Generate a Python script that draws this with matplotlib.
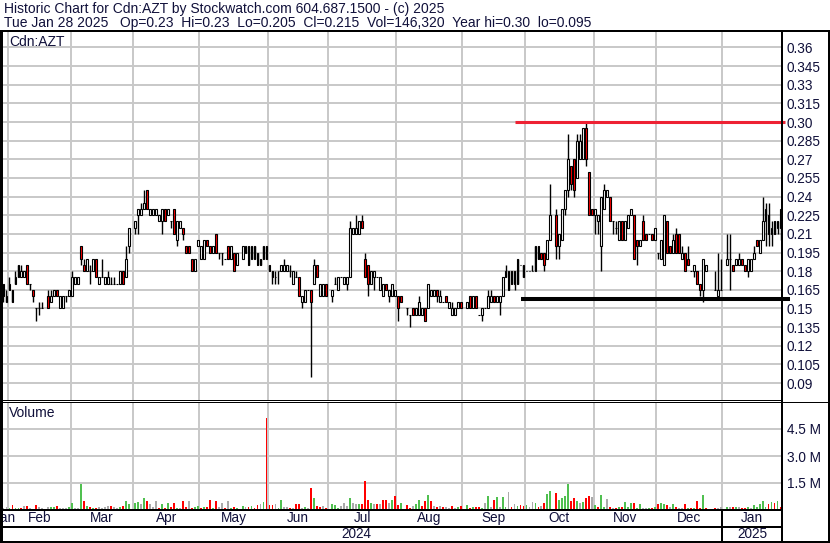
import numpy as np
import pandas as pd
import matplotlib
matplotlib.use("Agg")
import matplotlib.pyplot as plt
from matplotlib.lines import Line2D

plt.rcParams['font.family'] = ['Liberation Sans', 'DejaVu Sans']

# ---- data ----
holidays = ['2024-02-19', '2024-03-29', '2024-05-20', '2024-07-01', '2024-08-05',
            '2024-09-02', '2024-10-14', '2024-12-25', '2024-12-26', '2025-01-01']

# one row per month: Jan24, Feb .. Dec, Jan25
opens = [
    .17, .155,
    .17, .165, .17, .175, .175, .175, .185, .17, .165, .15, .15, .15, .16, .155, .16, .165, .15, .15, .16, .16,
    .16, .17, .17, .20, .185, .18, .18, .18, .19, .17, .175, .17, .17, .17, .17, .17, .17, .18, .175, .20,
    .215, .225, .225, .23, .245, .225, .225, .225, .22, .22, .23, .225, .22, .23, .205, .215, .215, .20, .20, .19, .18, .20,
    .19, .19, .205, .20, .195, .21, .195, .195, .19, .20, .19, .195, .185, .19, .195, .20, .19, .20, .195, .19, .19, .20,
    .185, .18, .175, .18, .18, .18, .18, .18, .17, .175, .175, .155, .155, .165, .165, .17, .185, .16, .16, .17,
    .16, .17, .165, .175, .17, .17, .175, .21, .21, .21, .22, .19, .185, .17, .175, .175, .165, .16, .17, .16, .16, .16,
    .16, .16, .15, .145, .15, .145, .145, .145, .15, .15, .16, .16, .165, .155, .155, .16, .15, .145, .145, .15, .155,
    .15, .16, .15, .16, .145, .145, .15, .15, .155, .16, .155, .155, .16, .175, .165, .18, .18, .17, .185, .185,
    .18, .18, .18, .18, .20, .195, .195, .19, .205, .225, .20, .205, .23, .245, .265, .27, .255, .27, .27, .295, .26, .23,
    .225, .22, .20, .23, .24, .24, .22, .215, .205, .22, .205, .215, .225, .225, .205, .20, .22, .21, .21, .21, .205,
    .195, .19, .185, .22, .20, .195, .21, .21, .19, .195, .19, .18, .18, .18, .17, .165, .18, .165, .16, .165,
    .185, .19, .185, .185, .185, .19, .185, .18, .18, .19, .205, .195, .205, .22, .225, .21, .22, .215, .23,
]
highs = [
    .17, .165,
    .175, .165, .18, .185, .185, .18, .185, .17, .165, .15, .155, .155, .165, .165, .165, .165, .16, .16, .16, .165,
    .18, .175, .175, .20, .19, .19, .185, .19, .19, .175, .19, .175, .18, .175, .175, .17, .18, .18, .20, .215,
    .22, .23, .235, .245, .245, .23, .23, .23, .225, .23, .23, .23, .22, .23, .22, .22, .215, .20, .20, .19, .19, .205,
    .20, .205, .205, .20, .20, .21, .195, .195, .19, .20, .20, .195, .195, .20, .20, .20, .20, .20, .195, .19, .20, .20,
    .185, .18, .18, .18, .185, .19, .185, .185, .18, .18, .175, .16, .165, .165, .165, .19, .185, .17, .17, .17,
    .165, .175, .175, .175, .175, .175, .22, .215, .225, .22, .225, .195, .185, .18, .18, .175, .175, .17, .17, .165, .17, .165,
    .16, .16, .15, .145, .15, .15, .16, .15, .15, .17, .165, .165, .165, .165, .155, .16, .155, .155, .15, .155, .155,
    .155, .16, .16, .16, .145, .15, .15, .165, .165, .16, .16, .16, .175, .185, .18, .18, .18, .19, .185, .185,
    .18, .18, .185, .20, .20, .195, .195, .205, .25, .23, .21, .23, .245, .29, .265, .27, .29, .29, .295, .30, .26, .23,
    .23, .225, .24, .25, .245, .24, .22, .22, .22, .22, .22, .225, .23, .225, .205, .205, .225, .21, .21, .21, .215,
    .195, .205, .225, .22, .20, .21, .215, .21, .20, .195, .20, .18, .185, .18, .17, .19, .185, .18, .195, .19,
    .21, .21, .185, .19, .195, .19, .185, .19, .19, .20, .205, .205, .24, .235, .235, .22, .22, .22, .23,
]
lows = [
    .155, .155,
    .165, .155, .17, .175, .175, .175, .17, .165, .155, .14, .145, .15, .15, .155, .16, .16, .15, .15, .155, .16,
    .16, .17, .17, .185, .18, .18, .17, .18, .175, .17, .175, .17, .17, .17, .17, .17, .17, .17, .175, .195,
    .21, .21, .225, .23, .23, .225, .225, .225, .22, .21, .22, .225, .215, .21, .20, .215, .205, .195, .195, .18, .18, .20,
    .19, .19, .20, .195, .195, .195, .19, .185, .19, .19, .19, .18, .185, .19, .195, .185, .19, .19, .185, .185, .19, .19,
    .18, .17, .17, .17, .18, .18, .18, .175, .17, .175, .16, .15, .155, .165, .095, .17, .175, .16, .16, .16,
    .155, .17, .165, .175, .17, .165, .175, .21, .21, .21, .215, .175, .16, .17, .165, .175, .165, .16, .165, .155, .16, .16,
    .14, .155, .145, .135, .145, .145, .145, .145, .14, .15, .16, .16, .155, .155, .155, .155, .15, .145, .145, .15, .15,
    .15, .15, .15, .15, .145, .14, .15, .15, .155, .155, .155, .145, .16, .175, .165, .17, .165, .17, .185, .175,
    .18, .18, .18, .18, .19, .19, .18, .19, .205, .19, .19, .205, .225, .24, .245, .24, .255, .27, .27, .265, .225, .225,
    .21, .21, .18, .23, .24, .22, .21, .21, .205, .205, .205, .215, .225, .19, .185, .20, .205, .205, .21, .205, .205,
    .19, .19, .185, .195, .195, .195, .195, .195, .19, .18, .185, .18, .175, .17, .16, .155, .18, .165, .16, .165,
    .185, .165, .18, .185, .185, .185, .18, .175, .18, .19, .20, .195, .205, .20, .20, .20, .21, .21, .205,
]
closes = [
    .16, .16,
    .165, .155, .175, .185, .18, .18, .17, .17, .16, .15, .15, .15, .15, .16, .165, .16, .16, .16, .16, .165,
    .175, .175, .175, .19, .18, .19, .18, .19, .175, .175, .175, .175, .175, .17, .17, .17, .18, .17, .19, .215,
    .22, .23, .23, .235, .23, .23, .23, .23, .225, .23, .22, .23, .22, .21, .22, .22, .21, .195, .195, .18, .19, .205,
    .20, .205, .20, .195, .20, .195, .195, .195, .19, .19, .20, .18, .195, .20, .20, .185, .20, .19, .185, .185, .20, .19,
    .18, .175, .175, .18, .185, .185, .185, .18, .18, .175, .16, .16, .165, .165, .155, .185, .175, .17, .17, .16,
    .165, .17, .175, .175, .175, .175, .215, .215, .215, .22, .215, .175, .17, .18, .18, .175, .175, .17, .165, .165, .17, .165,
    .15, .155, .15, .145, .145, .15, .155, .15, .14, .17, .165, .165, .16, .16, .155, .155, .155, .15, .15, .155, .15,
    .155, .15, .16, .15, .145, .15, .15, .16, .16, .155, .16, .16, .175, .18, .18, .17, .17, .19, .185, .175,
    .18, .18, .18, .20, .19, .19, .185, .205, .225, .20, .21, .23, .245, .27, .25, .245, .285, .285, .295, .27, .225, .225,
    .23, .225, .24, .245, .245, .22, .22, .215, .22, .205, .22, .225, .23, .19, .20, .205, .205, .205, .21, .205, .215,
    .195, .205, .225, .195, .195, .205, .195, .195, .195, .18, .185, .18, .185, .17, .165, .19, .185, .165, .165, .165,
    .19, .19, .18, .19, .19, .185, .18, .19, .19, .195, .20, .205, .22, .23, .21, .215, .21, .22, .215,
]
volumes = [  # millions
    0.12, 0.15,
    0.12, 0.28, 0.10, 0.12, 0.10, 0.20, 0.22, 0.12, 0.08, 0.28, 0.15, 0.12, 0.15, 0.18, 0.18, 0.22, 0.12, 0.10, 0.10, 0.15,
    0.41, 0.10, 0.12, 1.44, 0.50, 0.22, 0.15, 0.12, 0.10, 0.15, 0.13, 0.15, 0.20, 0.20, 0.15, 0.12, 0.15, 0.20, 0.52, 0.35,
    0.40, 0.45, 0.33, 0.67, 0.50, 0.33, 0.15, 0.50, 0.12, 0.33, 0.12, 0.40, 0.15, 0.40, 0.12, 0.12, 0.50, 0.15, 0.50, 0.12, 0.15, 0.22,
    0.12, 0.15, 0.15, 0.55, 0.12, 0.50, 0.15, 0.41, 0.12, 0.50, 0.12, 0.15, 0.12, 0.22, 0.15, 0.15, 0.22, 0.12, 0.28, 0.33, 0.45, 5.13,
    0.28, 0.28, 0.33, 0.12, 0.56, 0.15, 0.15, 0.12, 0.12, 0.33, 0.33, 0.12, 0.15, 0.12, 1.24, 0.67, 0.20, 0.15, 0.20, 0.12,
    0.33, 0.28, 0.12, 0.20, 0.41, 0.20, 0.67, 0.41, 0.33, 0.33, 0.33, 1.61, 0.56, 0.41, 0.33, 0.33, 0.33, 0.56, 0.56, 0.41, 0.56, 0.78,
    0.28, 0.41, 0.28, 0.12, 0.22, 0.33, 0.56, 0.20, 0.50, 0.83, 0.50, 0.20, 0.15, 0.20, 0.15, 0.15, 0.12, 0.20, 0.12, 0.15, 0.20,
    0.28, 0.12, 0.15, 0.15, 0.15, 0.12, 0.41, 0.78, 0.15, 0.56, 0.75, 0.15, 0.75, 0.15, 1.02, 0.15, 0.33, 0.20, 0.28, 0.25,
    0.28, 0.15, 0.44, 0.41, 0.15, 0.20, 0.41, 0.89, 1.06, 0.95, 0.56, 0.67, 0.78, 1.44, 0.50, 0.67, 0.50, 0.41, 0.44, 0.67, 0.78, 0.72,
    0.28, 0.15, 0.83, 0.15, 0.61, 0.15, 0.12, 0.12, 0.15, 0.15, 0.44, 0.15, 0.41, 0.41, 0.12, 0.33, 0.12, 0.12, 0.12, 0.12, 0.15,
    0.33, 0.39, 0.33, 0.28, 0.15, 0.33, 0.15, 0.12, 0.12, 0.33, 0.12, 0.12, 0.12, 0.50, 0.12, 0.83, 0.12, 0.10, 0.12, 0.15,
    0.15, 0.15, 0.15, 0.15, 0.15, 0.12, 0.12, 0.15, 0.12, 0.28, 0.15, 0.33, 0.50, 0.15, 0.33, 0.44, 0.41, 0.50, 0.146,
]

price_ticks = [0.36, 0.345, 0.33, 0.315, 0.30, 0.285, 0.27, 0.255, 0.24, 0.225,
               0.21, 0.195, 0.18, 0.165, 0.15, 0.135, 0.12, 0.105, 0.09]
price_labels = ['0.36', '0.345', '0.33', '0.315', '0.30', '0.285', '0.27', '0.255', '0.24', '0.225',
                '0.21', '0.195', '0.18', '0.165', '0.15', '0.135', '0.12', '0.105', '0.09']
vol_ticks = [1.5, 3.0, 4.5]
vol_labels = ['1.5 M', '3.0 M', '4.5 M']
month_names = ['Jan', 'Feb', 'Mar', 'Apr', 'May', 'Jun', 'Jul', 'Aug', 'Sep', 'Oct', 'Nov', 'Dec', 'Jan']

resistance = (0.30, '2024-09-25')
support = (0.1575, '2024-09-27')

header1 = 'Historic Chart for Cdn:AZT by Stockwatch.com 604.687.1500 - (c) 2025'
header2 = 'Tue Jan 28 2025   Op=0.23  Hi=0.23  Lo=0.205  Cl=0.215  Vol=146,320  Year hi=0.30  lo=0.095'

# ---- positions on a weekday axis (holidays leave a gap) ----
first_day = '2024-01-30'
days = pd.bdate_range(first_day, '2025-01-28')
days = days[~days.isin(pd.to_datetime(holidays))]
xs = np.busday_count(first_day, days.values.astype('datetime64[D]'))
o, h, l, c, v = (np.array(a) for a in (opens, highs, lows, closes, volumes))
assert len(xs) == len(o) == len(h) == len(l) == len(c) == len(v)

x_lo, x_hi = -0.5, xs[-1] + 0.5
month_starts = pd.date_range('2024-02-01', '2025-01-01', freq='MS')
bounds = np.busday_count(first_day, month_starts.values.astype('datetime64[D]')) - 0.5
edges = np.concatenate([[x_lo], bounds, [x_hi]])

# ---- figure ----
W, H = 830, 543
fig = plt.figure(figsize=(W / 100, H / 100), dpi=100)
ink = '#10103a'
grid_c = '#c8c8c8'
fs = 9.8
fs_head = 10


def box(x0, y0, x1, y1):
    return [x0 / W, 1 - y1 / H, (x1 - x0) / W, (y1 - y0) / H]


def rule(xa, ya, px):
    fig.add_artist(Line2D([x / W for x in xa], [1 - y / H for y in ya], lw=px * 0.72,
                          color='black', transform=fig.transFigure, solid_capstyle='butt'))


ax_p = fig.add_axes(box(2, 32, 782, 400))
ax_v = fig.add_axes(box(2, 402, 782, 510))
ax_d = fig.add_axes(box(2, 510, 782, 541))

for ax in (ax_p, ax_v, ax_d):
    ax.set_xlim(x_lo, x_hi)
    for s in ax.spines.values():
        s.set_visible(False)
    ax.set_xticks(bounds)
    ax.tick_params(axis='x', length=0, labelbottom=False)
    ax.set_axisbelow(True)

# price panel
ax_p.set_ylim(0.0764, 0.3724)
ax_p.yaxis.tick_right()
ax_p.set_yticks(price_ticks)
ax_p.set_yticklabels(price_labels)
ax_p.tick_params(axis='y', length=0, pad=3.5, labelsize=fs, labelcolor=ink)
ax_p.grid(True, color=grid_c, lw=1.4)

ax_p.vlines(xs, l, h, colors='black', lw=1.0, zorder=2)
fill = np.where(c < o, '#ff0000', 'white')
ax_p.bar(xs, np.abs(c - o), bottom=np.minimum(o, c), width=0.62, color=fill,
         edgecolor='black', linewidth=0.8, zorder=3)

r_start = np.busday_count(first_day, resistance[1])
s_start = np.busday_count(first_day, support[1])
ax_p.plot([r_start, x_hi + 1.0], [resistance[0]] * 2, color='#ee2233', lw=2.2,
          solid_capstyle='butt', clip_on=False, zorder=5)
ax_p.plot([s_start, x_hi + 2.7], [support[0]] * 2, color='black', lw=2.9,
          solid_capstyle='butt', clip_on=False, zorder=5)
ax_p.text(0.009, 0.972, 'Cdn:AZT', transform=ax_p.transAxes, fontsize=fs_head, color=ink,
          ha='left', va='center')

# volume panel
ax_v.set_ylim(0, 6.0)
ax_v.yaxis.tick_right()
ax_v.set_yticks(vol_ticks)
ax_v.set_yticklabels(vol_labels)
ax_v.tick_params(axis='y', length=0, pad=3.5, labelsize=fs, labelcolor=ink)
ax_v.grid(True, color=grid_c, lw=1.4)
prev = np.concatenate([[c[0]], c[:-1]])
vcol = np.where(c > prev, '#50c050', np.where(c < prev, '#ff0000', '#aaaaaa'))
ax_v.bar(xs, v, width=0.62, color=vcol, zorder=3)
ax_v.text(0.009, 0.9, 'Volume', transform=ax_v.transAxes, fontsize=fs_head, color=ink,
          ha='left', va='center')

# date rows
ax_d.set_ylim(0, 1)
ax_d.set_yticks([])
ax_d.grid(False)
for i, name in enumerate(month_names):
    ax_d.text((edges[i] + edges[i + 1]) / 2, 0.735, name, fontsize=fs, color=ink,
              ha='center', va='center', clip_on=False)
ax_d.text((x_lo + bounds[-1]) / 2 - 2, 0.22, '2024', fontsize=fs, color=ink, ha='center', va='center')
ax_d.text((bounds[-1] + x_hi) / 2, 0.22, '2025', fontsize=fs, color=ink, ha='center', va='center')
year_x = 2 + (bounds[-1] - x_lo) / (x_hi - x_lo) * 780

# header
fig.text(4 / W, 1 - 9 / H, header1, fontsize=fs_head, color=ink, ha='left', va='center')
fig.text(4 / W, 1 - 23 / H, header2, fontsize=fs_head, color=ink, ha='left', va='center')

# frame lines
rule([0, W], [30.5, 30.5], 2)
rule([1, 1], [30, 543], 3)
rule([782, 782], [30, 543], 2)
rule([828.5, 828.5], [30, 543], 2)
rule([0, 782], [400, 400], 1)
rule([0, W], [402, 402], 1)
rule([0, 782], [510, 510], 2)
rule([0, 782], [527, 527], 2)
rule([0, W], [541.5, 541.5], 2)
rule([year_x, year_x], [510, 542], 2)

fig.savefig('out.png', dpi=100, facecolor='white')
